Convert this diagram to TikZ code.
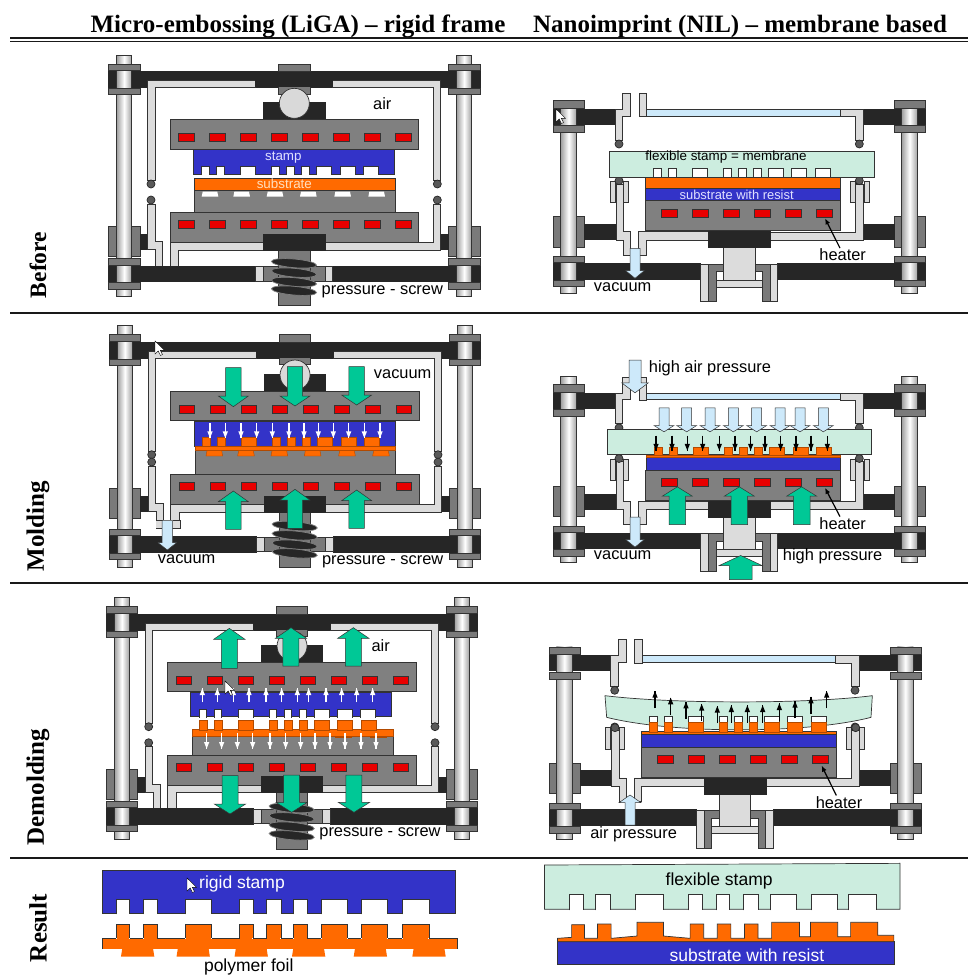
\documentclass[tikz,border=0pt]{standalone}
\usepackage{fontspec}
\usetikzlibrary{arrows.meta}
\setmainfont{Liberation Serif}
\setsansfont{Liberation Sans}
\definecolor{blk}{HTML}{262626}
\definecolor{plate}{HTML}{808080}
\definecolor{nutc}{HTML}{7A7A7A}
\definecolor{tubec}{HTML}{DCDCDC}
\definecolor{heat}{HTML}{E80000}
\definecolor{blu}{HTML}{3333C8}
\definecolor{orng}{HTML}{FF6A00}
\definecolor{grn}{HTML}{00C896}
\definecolor{lblu}{HTML}{CDE9FA}
\definecolor{mint}{HTML}{CCEDDF}
\definecolor{edgec}{HTML}{333333}
\tikzset{
 zs/.style 2 args={shift={(#1,#2)},x=.33333pt,y=-.33333pt},
 ln/.style={draw=edgec,line width=.7pt},
 blkp/.style={fill=blk,draw=blk,line width=.6pt},
 platep/.style={fill=plate,ln},
 nutp/.style={fill=nutc,ln},
 tubep/.style={fill=tubec,ln},
 heatp/.style={fill=heat,draw=edgec,line width=.7pt},
 bluep/.style={fill=blu,ln},
 orngp/.style={fill=orng,draw=orng!70!black,line width=.4pt},
 mintp/.style={fill=mint,ln},
 rodp/.style={left color=gray!75,right color=gray!75,middle color=white,ln},
 sealp/.style={fill=gray!70!black,draw=blk,line width=.7pt},
 threadp/.style={fill=blk,draw=gray,line width=.7pt},
 lab/.style={font=\sffamily\fontsize{16.4}{19}\selectfont,inner sep=0pt,text=black},
 smlab/.style={font=\sffamily\fontsize{13.4}{15}\selectfont,inner sep=0pt},
 reslab/.style={font=\sffamily\fontsize{17.5}{20}\selectfont,inner sep=0pt},
 ttl/.style={font=\bfseries\fontsize{25}{28}\selectfont,inner sep=0pt},
 rowl/.style={font=\bfseries\fontsize{25}{28}\selectfont,inner sep=0pt,rotate=90},
 rulep/.style={line width=2pt,draw=black!90},
}
% block arrow: x, tail y, neck y, tip y, half shaft, half head, fill
\newcommand\BlockArr[7]{\path[fill=#7,draw=edgec,line width=.5pt] ({#1-#5},#2) -- ({#1-#5},#3) -- ({#1-#6},#3) -- (#1,#4) -- ({#1+#6},#3) -- ({#1+#5},#3) -- ({#1+#5},#2) -- cycle;}
% thin arrow: x, tail y, tip y, colour
\newcommand\ThinArr[4]{\draw[#4,line width=1.1pt] (#1,{#2}) -- (#1,{#3});
 \fill[#4] ({#1-8},{#3+20*sign(#2-(#3))}) -- ({#1+8},{#3+20*sign(#2-(#3))}) -- (#1,{#3}) -- cycle;}
\newcommand\Notches[4]{\foreach \o/\w in {0/23,45/23,117/45,210/23,255/23,300/23,345/45,415/45,485/45}{
  \path[#4] ({#1+\o},#3) -- ({#1+\o},#2) -- ({#1+\o+\w},#2) -- ({#1+\o+\w},#3);}}
\newcommand\Teeth[4]{\foreach \o/\w in {0/23,45/23,117/45,210/23,255/23,300/23,345/45,415/45,485/45}{
  \path[#4] ({#1+\o},#3) rectangle ({#1+\o+\w},#2);}}
\newcommand\Traps[3]{\foreach \o in {0,95,195,295,398,500}{
  \path[#3] ({#1+\o+3},#2) -- ({#1+\o+47},#2) -- ({#1+\o+50},{#2+16}) -- ({#1+\o},{#2+16}) -- cycle;}}
\newcommand\Heaters[3]{\foreach \i in {0,...,#3}{\path[heatp] ({#1+93*\i},{#2}) rectangle ({#1+47+93*\i},{#2+25});}}
\newcommand\Cursor[2]{\path[fill=white,draw=black,line width=.4pt,shift={(#1,#2)}] (0,0) -- (0,13) -- (3.2,10) -- (5.5,14.5) -- (7.5,13.5) -- (5.3,9.3) -- (9.5,9.3) -- cycle;}
% left press: #1 upper dy, #2 lower dy, #3 screw dy, in zoom coords
\newcommand\LeftFrame[3]{
 \foreach \xa in {55,1075}{\path[nutp] (\xa,{530+#2}) rectangle ({\xa+95},{620+#2});}
 \path[blkp] (150,{553+#2}) rectangle (172,{598+#2});
 \path[blkp] (1052,{553+#2}) rectangle (1075,{598+#2});
 \path[blkp] (55,65) rectangle (1170,112);
 \path[tubep] (172,392) -- (172,92) -- (497,92) -- (497,112) -- (195,112) -- (195,392) -- cycle;
 \path[tubep] (1052,392) -- (1052,92) -- (728,92) -- (728,112) -- (1030,112) -- (1030,392) -- cycle;
 \path[sealp] (183,402) circle [radius=12];
 \path[sealp] (1042,402) circle [radius=12];
 \path[sealp] (183,{450+#2}) circle [radius=12];
 \path[sealp] (1042,{450+#2}) circle [radius=12];
 \path[tubep] (172,{462+#2}) -- (195,{462+#2}) -- (195,{575+#2}) -- (218,{575+#2}) -- (218,{648+#2}) -- (197,{648+#2}) -- (197,{598+#2}) -- (172,{598+#2}) -- cycle;
 \path[tubep] (1030,{462+#2}) -- (1052,{462+#2}) -- (1052,{600+#2}) -- (705,{600+#2}) -- (705,{578+#2}) -- (1030,{578+#2}) -- cycle;
 \path[tubep] (240,{648+#2}) -- (240,{578+#2}) -- (520,{578+#2}) -- (520,{600+#2}) -- (265,{600+#2}) -- (265,{648+#2}) -- cycle;
 \path[blkp] (520,{158+#1}) rectangle (705,{207+#1});
 \path[nutp] (566,110) rectangle (660,132);
 \path[fill=gray!30,draw=edgec,line width=.7pt] (613,{160+#1}) circle [radius=45];
 \path[nutp] (566,42) rectangle (660,65);
 \path[blkp] (497,68) rectangle (728,110);
 \path[platep] (240,{208+#1}) rectangle (985,{297+#1});
 \Heaters{265}{250+#1}{7}
 \path[platep] (240,{488+#2}) rectangle (985,{578+#2});
 \Heaters{265}{511+#2}{7}
 \path[blkp] (55,648) rectangle (497,695);
 \path[blkp] (728,648) rectangle (1170,695);
 \path[tubep] (497,650) rectangle (520,693);
 \path[tubep] (705,650) rectangle (728,693);
 \path[nutp] (520,650) rectangle (705,693);
 \path[nutp] (565,{552+#2}) rectangle (660,{765+#3});
 \path[blkp] (520,{552+#2}) rectangle (705,{600+#2});
 \foreach \xa in {80,1100}{\path[rodp] (\xa,15) rectangle ({\xa+45},740);}
 \foreach \xa in {55,1075}{
  \path[nutp] (\xa,42) rectangle ({\xa+95},62);
  \path[nutp] (\xa,115) rectangle ({\xa+95},133);
  \path[nutp] (\xa,625) rectangle ({\xa+95},645);
  \path[nutp] (\xa,698) rectangle ({\xa+95},717);}
 \foreach \ya in {640,668,696,722}{\path[threadp,rotate around={-5:(612,{\ya+#3})}] (612,{\ya+#3}) ellipse [x radius=68, y radius=13];}
}
% right press: #1 top dy, #2 lower seal dy, #3 rod top
\newcommand\RightFrame[3]{
 \foreach \xa in {40,1063}{\path[nutp] (\xa,410) rectangle ({\xa+93},502);}
 \path[blkp] (133,433) rectangle (230,478);
 \path[blkp] (970,433) rectangle (1063,478);
 \path[blkp] (40,{88+#1}) rectangle (225,{133+#1});
 \path[blkp] (970,{88+#1}) rectangle (1157,{133+#1});
 \path[blkp] (40,550) rectangle (482,597);
 \path[blkp] (713,550) rectangle (1157,597);
 \path[tubep] (550,503) rectangle (645,622);
 \path[tubep] (528,600) rectangle (667,622);
 \path[tubep] (482,553) rectangle (505,665);
 \path[tubep] (690,553) rectangle (713,665);
 \path[nutp] (505,553) -- (550,553) -- (550,575) -- (528,575) -- (528,665) -- (505,665) -- cycle;
 \path[nutp] (690,553) -- (645,553) -- (645,575) -- (667,575) -- (667,665) -- (690,665) -- cycle;
 \foreach \xa in {62,1085}{\path[rodp] (\xa,#3) rectangle ({\xa+48},640);}
 \foreach \xa in {40,1063}{
  \path[nutp] (\xa,{62+#1}) rectangle ({\xa+93},{85+#1});
  \path[nutp] (\xa,{137+#1}) rectangle ({\xa+93},{158+#1});
  \path[nutp] (\xa,530) rectangle ({\xa+93},548);
  \path[nutp] (\xa,600) rectangle ({\xa+93},620);}
 \path[fill=lblu,ln] (320,{88+#1}) rectangle (900,{108+#1});
 \path[tubep] (297,{40+#1}) rectangle (320,{110+#1});
 \path[tubep] (900,{88+#1}) -- (970,{88+#1}) -- (970,{180+#1}) -- (947,{180+#1}) -- (947,{110+#1}) -- (900,{110+#1}) -- cycle;
 \path[tubep] (248,{40+#1}) -- (272,{40+#1}) -- (272,{108+#1}) -- (248,{108+#1}) -- (248,{180+#1}) -- (225,{180+#1}) -- (225,{88+#1}) -- (248,{88+#1}) -- cycle;
 \path[sealp] (237,{192+#1}) circle [radius=12];
 \path[sealp] (958,{192+#1}) circle [radius=12];
 \path[fill=gray!30,ln] (210,{304+#2}) rectangle (225,{368+#2});
 \path[fill=gray!30,ln] (250,{304+#2}) rectangle (265,{368+#2});
 \path[fill=gray!30,ln] (932,{304+#2}) rectangle (947,{368+#2});
 \path[fill=gray!30,ln] (972,{304+#2}) rectangle (987,{368+#2});
 \path[tubep] (228,{312+#2}) -- (250,{312+#2}) -- (250,455) -- (272,455) -- (272,525) -- (250,525) -- (250,480) -- (228,480) -- cycle;
 \path[tubep] (295,525) -- (318,525) -- (318,480) -- (505,480) -- (505,455) -- (295,455) -- cycle;
 \path[tubep] (692,480) -- (692,457) -- (947,457) -- (947,{312+#2}) -- (970,{312+#2}) -- (970,480) -- cycle;
 \path[sealp] (237,{302+#2}) circle [radius=12];
 \path[sealp] (958,{302+#2}) circle [radius=12];
 \path[platep] (317,362) rectangle (902,452);
 \Heaters{365}{387}{5}
 \path[blkp] (505,455) rectangle (692,503);
}
\begin{document}
\begin{tikzpicture}[x=1pt,y=-1pt]
\useasboundingbox (0,0) rectangle (968,975);
\fill[white] (0,0) rectangle (968,975);
% ---------- header and rules
\node[ttl] (t1) at (298,26) {Micro-embossing (LiGA) -- rigid frame};
\node[ttl] (t2) at (740,26) {Nanoimprint (NIL) -- membrane based};
\draw[rulep] (10,38) -- (968,38);
\draw[line width=1pt,draw=black!90] (10,41.5) -- (968,41.5);
\draw[rulep] (10,313) -- (968,313);
\draw[rulep] (10,583) -- (968,583);
\draw[rulep] (10,858) -- (968,858);
\node[rowl,font=\bfseries\fontsize{23.5}{26}\selectfont] (r1) at (38,265) {Before};
\node[rowl] (r2) at (38,526) {Molding};
\node[rowl] (r3) at (38,787) {Demolding};
\node[rowl] (r4) at (38,928) {Result};
% ---------- Before, left
\begin{scope}[zs={90}{50}]
 \LeftFrame{0}{0}{0}
 \path[platep] (312,422) rectangle (915,488);
 \foreach \o in {335,430,530,630,733,835}{\path[fill=white] ({\o+3},425) -- ({\o+47},425) -- ({\o+50},440) -- (\o,440) -- cycle;}
 \path[bluep] (310,298) rectangle (913,372);
 \Notches{335}{350}{375}{fill=white,ln}
 \path[fill=orng,ln] (312,385) rectangle (915,420);
 \node[smlab,text=white!88!blue] (a1) at (580,323) {stamp};
 \node[smlab,text=orange!25] (a2) at (583,400) {substrate};
 \node[lab] (a3) at (877,160) {air};
 \node[lab] (a4) at (877,724) {pressure - screw};
\end{scope}
% ---------- Before, right
\begin{scope}[zs={540}{80}]
 \RightFrame{0}{0}{62}
 \path[mintp] (208,213) rectangle (1002,292);
 \Notches{340}{265}{295}{fill=white,ln}
 \path[fill=orng,ln] (317,292) rectangle (902,325);
 \path[bluep] (317,325) rectangle (902,362);
 \node[smlab] (b1) at (558,232) {flexible stamp = membrane};
 \node[smlab,font=\sffamily\fontsize{12.9}{15}\selectfont,text=white!88!blue] (b2) at (590,345) {substrate with resist};
 \coordinate (b3t) at (855,415);
 \node[lab] (b3) at (908,525) {heater};
 \draw[line width=1.2pt,-{Latex[length=6pt,width=5pt]}] (b3.north) ++(-8,-2) -- (b3t);
 \BlockArr{285}{505}{572}{595}{15}{28}{lblu}
 \node[lab] (b4) at (248,620) {vacuum};
\end{scope}
\Cursor{556}{109}
% ---------- Molding, left
\begin{scope}[zs={90.7}{320.7}]
 \LeftFrame{3}{-26}{-24}
 \path[tubep] (197,622) rectangle (268,600);
 \path[fill=white] (218,598) rectangle (246,610);
 \path[fill=tubec] (197,600) rectangle (216,622);
\end{scope}
\begin{scope}[zs={90}{320}]
 \path[platep] (315,392) rectangle (917,462);
 \path[bluep] (313,305) rectangle (916,378);
 \path[orngp] (315,378) rectangle (917,392);
 \Teeth{338}{352}{380}{orngp}
 \Traps{348}{392}{orngp}
 \foreach \xa in {360,406,453,500,547,597,642,685,730,776,823,870}{\ThinArr{\xa}{310}{354}{white}}
 \BlockArr{430}{143}{228}{260}{23}{45}{grn}
 \BlockArr{615}{140}{228}{258}{23}{45}{grn}
 \BlockArr{800}{140}{225}{255}{23}{45}{grn}
 \BlockArr{430}{628}{545}{513}{23}{45}{grn}
 \BlockArr{615}{625}{540}{508}{23}{45}{grn}
 \BlockArr{800}{625}{542}{510}{23}{45}{grn}
 \BlockArr{232}{602}{668}{690}{16}{28}{lblu}
 \node[lab] (c1) at (938,162) {vacuum};
 \node[lab] (c2) at (290,717) {vacuum};
 \node[lab] (c3) at (878,724) {pressure - screw};
\end{scope}
\Cursor{155}{341}
% ---------- Molding, right
\begin{scope}[zs={540}{349.5}]
 \RightFrame{43}{25}{82}
 \path[mintp] (203,240) rectangle (995,316);
 \path[bluep] (320,322) rectangle (902,362);
 \path[orngp] (320,316) rectangle (902,322);
 \Teeth{344}{292}{318}{orngp}
 \foreach \xa in {372,440,510,580,650,720,780,850}{\BlockArr{\xa}{175}{228}{247}{15}{30}{lblu}}
 \foreach \xa in {348,396,442,488,538,585,632,675,722,768,813,862}{\ThinArr{\xa}{258}{303}{black}}
 \BlockArr{285}{32}{100}{130}{18}{40}{lblu}
 \BlockArr{285}{503}{570}{593}{15}{28}{lblu}
 \BlockArr{412}{525}{440}{412}{25}{45}{grn}
 \BlockArr{598}{525}{440}{412}{25}{45}{grn}
 \BlockArr{785}{525}{440}{412}{25}{45}{grn}
 \BlockArr{602}{690}{648}{618}{34}{64}{grn}
 \coordinate (d1t) at (855,415);
 \node[lab] (d1) at (908,522) {heater};
 \draw[line width=1.2pt,-{Latex[length=6pt,width=5pt]}] (d1.north) ++(-8,-2) -- (d1t);
 \node[lab] (d2) at (510,57) {high air pressure};
 \node[lab] (d3) at (248,617) {vacuum};
 \node[lab] (d4) at (878,620) {high pressure};
\end{scope}
% ---------- Demolding, left
\begin{scope}[zs={87.7}{592.7}]
 \LeftFrame{0}{0}{6}
\end{scope}
\begin{scope}[zs={90}{590}]
 \path[platep] (307,436) rectangle (910,497);
 \path[orngp] (307,418) rectangle (910,440);
 \Teeth{328}{392}{420}{orngp}
 \foreach \o in {735,840}{\path[orngp] (\o,438) rectangle ({\o+50},443);}
 \path[bluep] (302,307) rectangle (905,380);
 \Notches{327}{358}{383}{fill=white,ln}
 \foreach \xa in {337,382,430,477,528,575,622,656,708,755,800,848}{\ThinArr{\xa}{337}{295}{white}}
 \foreach \xa in {350,395,442,488,540,587,632,675,720,765,813,858}{\ThinArr{\xa}{430}{476}{white}}
 \BlockArr{418}{235}{148}{115}{24}{47}{grn}
 \BlockArr{603}{228}{145}{113}{24}{47}{grn}
 \BlockArr{790}{228}{145}{113}{24}{47}{grn}
 \BlockArr{420}{557}{642}{672}{24}{47}{grn}
 \BlockArr{605}{555}{637}{667}{24}{47}{grn}
 \BlockArr{792}{555}{637}{667}{24}{47}{grn}
 \node[lab] (e1) at (872,167) {air};
 \node[lab] (e2) at (870,730) {pressure - screw};
\end{scope}
\Cursor{225}{681}
% ---------- Demolding, right
\begin{scope}[zs={535.7}{626.3}]
 \RightFrame{0}{0}{62}
\end{scope}
\begin{scope}[zs={540}{630}]
 \path[mintp] (195,197) .. controls (400,222) and (800,222) .. (997,197) -- (993,262) .. controls (800,312) and (400,312) .. (200,262) -- cycle;
 \Notches{328}{260}{305}{fill=white,ln}
 \path[sealp] (225,293) circle [radius=12];
 \path[sealp] (947,293) circle [radius=12];
 \path[fill=orng,ln] (305,305) rectangle (890,314);
 \Teeth{328}{277}{306}{orngp}
 \path[bluep] (305,314) rectangle (890,352);
 \foreach \xa/\ya in {345/183,392/203,438/215,485/222,532/228,574/226,622/226,668/226,718/220,765/213,813/200,860/183}{\ThinArr{\xa}{\ya+52}{\ya}{black}}
 \BlockArr{270}{585}{518}{495}{15}{33}{lblu}
 \coordinate (f1t) at (845,407);
 \node[lab] (f1) at (897,517) {heater};
 \draw[line width=1.2pt,-{Latex[length=6pt,width=5pt]}] (f1.north) ++(-8,-2) -- (f1t);
 \node[lab] (f2) at (281,612) {air pressure};
\end{scope}
% ---------- Result
\begin{scope}[shift={(0,850)},x=.6173pt,y=-.33333pt]
 \path[bluep] (165,60) rectangle (738,190);
 \foreach \o/\w in {188/22,232/23,300/43,388/22,432/23,475/23,520/43,585/43,652/43}{
  \path[fill=white,ln] (\o,193) -- (\o,148) -- ({\o+\w},148) -- ({\o+\w},193);
  \path[fill=orng,draw=edgec,line width=.6pt] (\o,265) -- (\o,223) -- ({\o+\w},223) -- ({\o+\w},265);}
 \path[fill=orng] (165,266) -- (740,266) -- (740,297) -- (165,297) -- cycle;
 \draw[edgec,line width=.6pt] (165,297) -- (165,266) -- (188,266) (210,266) -- (232,266) (255,266) -- (300,266) (343,266) -- (388,266) (410,266) -- (432,266) (455,266) -- (475,266) (498,266) -- (520,266) (563,266) -- (585,266) (628,266) -- (652,266) (695,266) -- (740,266) -- (740,297);
 \foreach \o in {198,288,382,475,575,670}{\path[fill=orng] (\o,296) -- ({\o+50},296) -- ({\o+52},320) -- ({\o-2},320) -- cycle;}
 \foreach \o/\w in {188/22,232/23,300/43,388/22,432/23,475/23,520/43,585/43,652/43}{\path[fill=orng] ({\o+1},262) rectangle ({\o+\w-1},270);}
 \node[reslab,text=white] (g1) at (392,103) {rigid stamp};
 \node[reslab] (g2) at (403,352) {polymer foil};
 \path[mintp] (882,45) -- (1458,40) -- (1458,178) -- (882,178) -- cycle;
 \foreach \o/\w in {922/23,965/23,1030/45,1115/23,1160/22,1205/23,1248/42,1315/42,1375/45}{
  \path[fill=white,ln] (\o,181) -- (\o,132) -- ({\o+\w},132) -- ({\o+\w},181);}
 \path[bluep] (903,275) rectangle (1448,343);
 \path[fill=orng,ln] (903,275) -- (903,265) -- (926,262) -- (926,224) -- (947,224) -- (947,265) -- (968,265) -- (968,222) -- (990,222) -- (990,265) -- (1032,258) -- (1032,217) -- (1075,217) -- (1075,258) -- (1118,265) -- (1118,222) -- (1140,222) -- (1140,265) -- (1162,265) -- (1162,222) -- (1184,222) -- (1184,265) -- (1206,265) -- (1206,222) -- (1228,222) -- (1228,265) -- (1250,265) -- (1250,217) -- (1295,217) -- (1295,260) -- (1313,260) -- (1313,217) -- (1357,217) -- (1357,260) -- (1378,260) -- (1378,217) -- (1422,217) -- (1422,256) -- (1448,256) -- (1448,275) -- cycle;
 \node[reslab] (g3) at (1165,93) {flexible stamp};
 \node[reslab,text=white] (g4) at (1210,317) {substrate with resist};
\end{scope}
\Cursor{187}{878}
\end{tikzpicture}
\end{document}
